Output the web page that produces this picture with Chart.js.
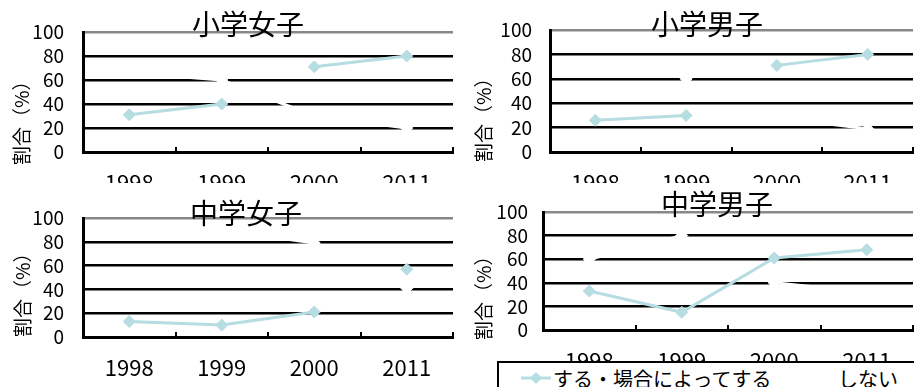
<!DOCTYPE html>
<html>
<head>
<meta charset="utf-8">
<script src="https://cdn.jsdelivr.net/npm/chart.js@4.4.1/dist/chart.umd.min.js"></script>
<style>
html, body { margin: 0; padding: 0; background: #fff; }
body { width: 914px; height: 387px; overflow: hidden; position: relative; font-family: "Noto Sans CJK JP", sans-serif; }
.box { position: absolute; overflow: hidden; }
.box canvas { position: absolute; left: 0; top: 0; }
#legend { position: absolute; left: 497px; top: 361px; width: 440px; height: 40px; border: 2px solid #000; box-sizing: border-box; background: #fff; }
#legend span { position: absolute; top: 5px; font-size: 20px; line-height: 22px; white-space: nowrap; color: #000; }
#legend svg { position: absolute; left: 22px; top: 8px; }
</style>
</head>
<body>
<div class="box" style="left:0;top:0;width:460px;height:183px"><canvas id="c0" width="460" height="200"></canvas></div>
<div class="box" style="left:460px;top:0;width:454px;height:183px"><canvas id="c1" width="460" height="200"></canvas></div>
<div class="box" style="left:0;top:185px;width:460px;height:202px"><canvas id="c2" width="460" height="202"></canvas></div>
<div class="box" style="left:460px;top:185px;width:454px;height:202px"><canvas id="c3" width="460" height="202"></canvas></div>
<div id="legend"></div>
<script>
const years = ["1998", "1999", "2000", "2011"];
const seriesLabels = ["する・場合によってする", "しない"];
const yAxisTitle = "割合（%）";

// 小学女子
const esGirlsDo = [31, 40, 71, 80];
const esGirlsNot = [66, 60, 30, 20];
// 小学男子
const esBoysDo = [26, 30, 71, 80];
const esBoysNot = [72, 60, 28, 19];
// 中学女子
const jhGirlsDo = [13, 10, 21, 57];
const jhGirlsNot = [87, 90, 79, 41];
// 中学男子
const jhBoysDo = [33, 15, 61, 68];
const jhBoysNot = [60, 80, 40, 32];

// segments not drawn in the original (index of the segment's first point)
const esGirlsBreaks = { do: [1], not: [] };
const esBoysBreaks = { do: [1], not: [0, 1] };
const jhGirlsBreaks = { do: [2], not: [2] };
const jhBoysBreaks = { do: [], not: [1] };

const BLUE = "#b6dde1";
const FONT = "'Noto Sans CJK JP', 'Noto Sans', sans-serif";
const TITLE_SIZE = 28;

// move the title sideways after layout
const titleShift = {
    id: "titleShift",
    afterLayout(chart, args, opts) {
        const t = chart.titleBlock;
        if (t && opts.dx) { t.left += opts.dx; t.right += opts.dx; }
    }
};

// rotated y axis caption
const yCaption = {
    id: "yCaption",
    afterDraw(chart, args, opts) {
        const ctx = chart.ctx;
        ctx.save();
        ctx.translate(opts.x, opts.y);
        ctx.rotate(-Math.PI / 2);
        ctx.font = "19px " + FONT;
        ctx.fillStyle = "#000";
        ctx.textAlign = "left";
        ctx.textBaseline = "middle";
        ctx.fillText(opts.text, 0, 0);
        ctx.restore();
    }
};

function drawPanel(id, title, doVals, notVals, breaks, box) {
    // box: page coords of canvas, plot area, title centre, caption
    const pr = box.l + box.w - box.plot.r;
    const yW = box.plot.l - box.l;
    const xH = box.t + box.h - box.plot.b;
    const lh = TITLE_SIZE * 1.2;
    const tTop = box.title.y - box.t - lh / 2;
    const tBottom = (box.plot.t - box.t) - lh - tTop;
    const dx = box.title.x - (box.l + (box.w - pr) / 2);

    new Chart(document.getElementById(id), {
        type: "line",
        data: {
            labels: years,
            datasets: [
                {
                    label: seriesLabels[0],
                    data: doVals,
                    borderColor: BLUE,
                    borderWidth: 3,
                    pointStyle: "rectRot",
                    pointRadius: 6,
                    pointBackgroundColor: BLUE,
                    pointBorderColor: BLUE,
                    pointBorderWidth: 1,
                    segment: { borderColor: c => breaks.do.includes(c.p0DataIndex) ? "rgba(0,0,0,0)" : BLUE }
                },
                {
                    label: seriesLabels[1],
                    data: notVals,
                    borderColor: "#fff",
                    borderWidth: 3,
                    pointStyle: "rectRot",
                    pointRadius: 6,
                    pointBackgroundColor: "#fff",
                    pointBorderColor: "#fff",
                    pointBorderWidth: 1,
                    segment: { borderColor: c => breaks.not.includes(c.p0DataIndex) ? "rgba(0,0,0,0)" : "#fff" }
                }
            ]
        },
        options: {
            responsive: false,
            animation: false,
            events: [],
            layout: { padding: { left: 0, right: pr, top: 0, bottom: 0 } },
            scales: {
                x: {
                    offset: true,
                    afterFit: s => { s.height = xH; },
                    grid: {
                        offset: true,
                        drawOnChartArea: true,
                        color: c => c.index === years.length ? "#888" : "rgba(0,0,0,0)",
                        tickColor: "#000",
                        lineWidth: 2,
                        tickLength: -5
                    },
                    border: { color: "#000", width: 3 },
                    ticks: { color: "#000", font: { family: FONT, size: 22 }, padding: 22, maxRotation: 0, autoSkip: false }
                },
                y: {
                    min: 0,
                    max: 100,
                    afterFit: s => { s.width = yW; },
                    grid: {
                        color: c => c.tick && c.tick.value === 100 ? "#888" : "#000",
                        lineWidth: 2.5,
                        drawTicks: false
                    },
                    border: { color: "#000", width: 3 },
                    ticks: { stepSize: 20, autoSkip: false, color: "#000", font: { family: FONT, size: 19 }, padding: box.tickPad }
                }
            },
            plugins: {
                legend: { display: false },
                tooltip: { enabled: false },
                title: {
                    display: true,
                    text: title,
                    color: "#000",
                    font: { family: FONT, size: TITLE_SIZE, weight: "normal", lineHeight: 1.2 },
                    padding: { top: tTop, bottom: tBottom }
                },
                titleShift: { dx: dx },
                yCaption: { text: yAxisTitle, x: box.cap.x - box.l, y: box.cap.y - box.t }
            }
        },
        plugins: [titleShift, yCaption]
    });
}

drawPanel("c0", "小学女子", esGirlsDo, esGirlsNot, esGirlsBreaks,
    { l: 0, t: 0, w: 460, h: 200, plot: { l: 83, r: 453, t: 32, b: 152 }, title: { x: 248, y: 24 }, cap: { x: 22, y: 165 }, tickPad: 19 });
drawPanel("c1", "小学男子", esBoysDo, esBoysNot, esBoysBreaks,
    { l: 460, t: 0, w: 460, h: 200, plot: { l: 550, r: 917, t: 30, b: 152 }, title: { x: 707, y: 24 }, cap: { x: 484, y: 162 }, tickPad: 18 });
drawPanel("c2", "中学女子", jhGirlsDo, jhGirlsNot, jhGirlsBreaks,
    { l: 0, t: 185, w: 460, h: 202, plot: { l: 83, r: 453, t: 218, b: 337 }, title: { x: 246, y: 213 }, cap: { x: 23, y: 337 }, tickPad: 19 });
drawPanel("c3", "中学男子", jhBoysDo, jhBoysNot, jhBoysBreaks,
    { l: 460, t: 185, w: 460, h: 202, plot: { l: 543, r: 915, t: 212, b: 330 }, title: { x: 717, y: 204 }, cap: { x: 484, y: 340 }, tickPad: 15 });

// legend below the last panel
const legend = document.getElementById("legend");
legend.innerHTML =
    '<svg width="30" height="14"><line x1="0" y1="7" x2="30" y2="7" stroke="' + BLUE + '" stroke-width="3"/>' +
    '<polygon points="15,1 21,7 15,13 9,7" fill="' + BLUE + '"/></svg>' +
    '<span style="left:54px">' + seriesLabels[0] + '</span>' +
    '<span style="left:339px">' + seriesLabels[1] + '</span>';
</script>
</body>
</html>
